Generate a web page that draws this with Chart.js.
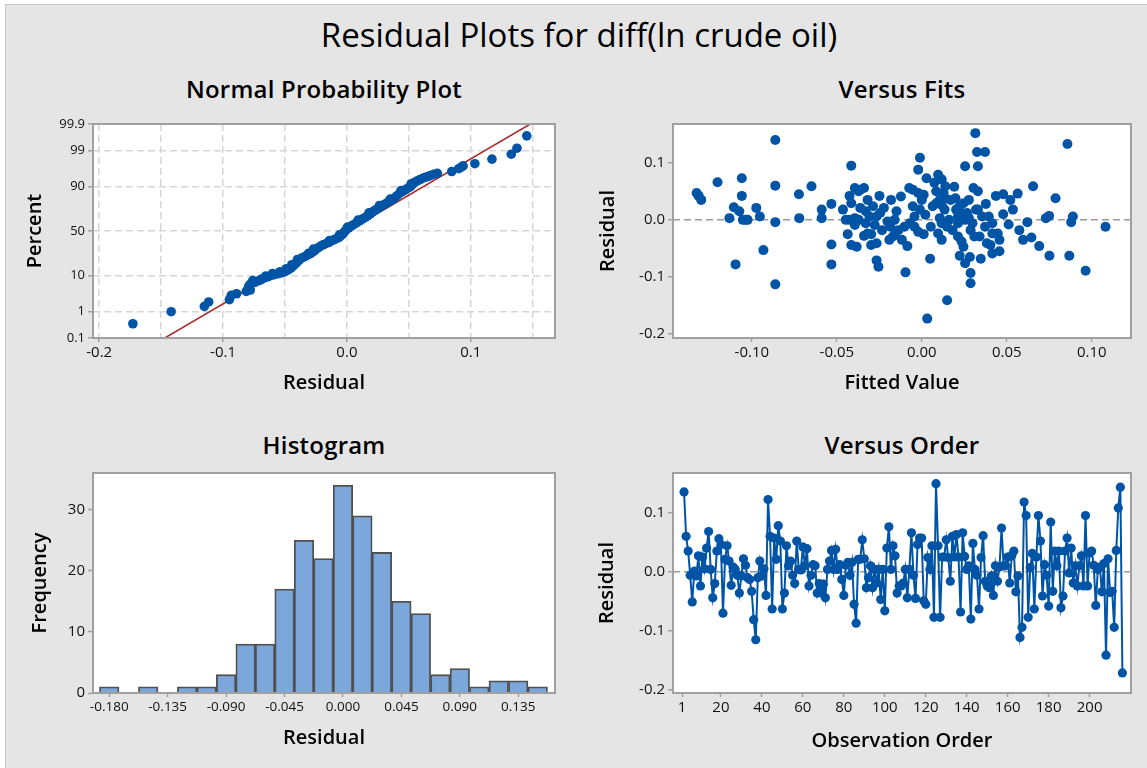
<!DOCTYPE html>
<html>
<head>
<meta charset="utf-8">
<script src="https://cdn.jsdelivr.net/npm/chart.js@4.4.1/dist/chart.umd.min.js"></script>
<style>
  body { margin: 0; width: 1147px; height: 768px; background: #fff; position: relative; overflow: hidden;
         font-family: "Open Sans", "Noto Sans", sans-serif; }
  #back { position: absolute; left: 5px; top: 4px; right: 0; bottom: 0; background: #e5e5e5;
          border-left: 1px solid #c8c8c8; border-top: 1px solid #c8c8c8; }
  .title { position: absolute; text-align: center; color: #000; white-space: nowrap; }
  .main { left: 0; width: 1158px; top: 15px; font-size: 33px; line-height: 40px; }
  .panel { font-size: 24px; line-height: 28px; font-weight: 600; top: 75px; width: 462px; letter-spacing: 0.2px; }
  canvas { position: absolute; }
</style>
</head>
<body>
<div id="back"></div>
<div class="title main">Residual Plots for diff(ln crude oil)</div>
<div class="title panel" style="left:93px">Normal Probability Plot</div>
<div class="title panel" style="left:673px; width:458px">Versus Fits</div>
<div class="title panel" style="left:93px; top:431px">Histogram</div>
<div class="title panel" style="left:673px; top:431px; width:458px">Versus Order</div>

<canvas id="normChart" width="573" height="340" style="left:0; top:60px"></canvas>
<canvas id="fitsChart" width="574" height="340" style="left:573px; top:60px"></canvas>
<canvas id="histChart" width="573" height="368" style="left:0; top:400px"></canvas>
<canvas id="orderChart" width="574" height="368" style="left:573px; top:400px"></canvas>

<script>
// normal probability plot: residual vs percent
const normResid = [-0.1728, -0.1419, -0.1151, -0.1116, -0.0949, -0.0934, -0.0891, -0.0813, -0.0793, -0.0770,
  -0.0727, -0.0669, -0.0611, -0.0553, -0.0496, -0.0452, -0.0409, -0.0366, -0.0323, -0.0279,
  -0.0236, -0.0193, -0.0149, -0.0107, -0.0063, -0.0034, -0.0006, 0.0038, 0.0081, 0.0124,
  0.0168, 0.0211, 0.0254, 0.0297, 0.0341, 0.0384, 0.0427, 0.0471, 0.0514, 0.0543,
  0.0586, 0.0629, 0.0673, 0.0730, 0.0846, 0.0903, 0.0938, 0.1033, 0.1171, 0.1327, 0.1373, 0.1452,
  -0.0800, -0.0780, -0.0785, -0.0745, -0.0760, -0.0700, -0.0690, -0.0640, -0.0655, -0.0585,
  -0.0600, -0.0525, -0.0540, -0.0475, -0.0490, -0.0430, -0.0445, -0.0388, -0.0400, -0.0345,
  -0.0300, -0.0310, -0.0258, -0.0270, -0.0215, -0.0171, -0.0128, -0.0140, -0.0085, -0.0048,
  -0.0060, -0.0020, 0.0016, 0.0005, 0.0060, 0.0102, 0.0090, 0.0146, 0.0190, 0.0178,
  0.0232, 0.0275, 0.0262, 0.0319, 0.0362, 0.0350, 0.0405, 0.0449, 0.0437, 0.0492,
  0.0528, 0.0520, 0.0565, 0.0607, 0.0651, 0.0700, 0.0920];
const normPct = [0.37, 0.99, 1.47, 2.02, 2.36, 3.14, 3.5, 4.05, 5.5, 6.65,
  7.27, 8.72, 9.98, 10.86, 12.14, 14.2, 17.7, 21.7, 24.0, 26.8,
  31.1, 34.5, 37.0, 40.0, 42.6, 46.8, 51.4, 56.0, 59.7, 63.4,
  66.9, 71.3, 74.5, 77.5, 80.3, 82.9, 86.3, 88.3, 90.0, 91.9,
  93.0, 93.9, 94.5, 95.2, 95.7, 96.4, 97.0, 97.4, 98.1, 98.67, 99.16, 99.70,
  4.6, 4.4, 6.0, 6.9, 7.6, 7.8, 8.2, 9.3, 9.7, 10.4,
  11.0, 11.4, 12.0, 13.1, 13.8, 15.8, 16.5, 19.6, 20.5, 22.8,
  25.4, 26.0, 28.9, 30.0, 32.8, 35.7, 38.5, 39.2, 41.3, 44.7,
  45.5, 49.1, 53.7, 54.5, 57.8, 61.5, 62.3, 65.1, 69.1, 70.0,
  72.9, 76.0, 76.8, 78.9, 81.6, 82.2, 84.6, 87.3, 87.8, 89.2,
  91.0, 91.4, 92.5, 93.5, 94.2, 94.9, 96.7];
// fitted normal line end points
const fitLineResid = [-0.147, 0.148];
const fitLinePct = [0.1, 99.9];
const pctTicks = [0.1, 1, 10, 50, 90, 99, 99.9];
const normXTicks = [-0.2, -0.15, -0.1, -0.05, 0, 0.05, 0.1, 0.15];

// versus fits
const fitX = [-0.1325, -0.1313, -0.1298, -0.1202, -0.1132, -0.1106, -0.1096, -0.1074, -0.1059, -0.1059,
  -0.1053, -0.1036, -0.1025, -0.0974, -0.0953, -0.0932, -0.0862, -0.0862, -0.0862, -0.0862,
  -0.0723, -0.0721, -0.0649, -0.0589, -0.0589, -0.0532, -0.0532, -0.0532, -0.0464, -0.0447,
  -0.0436, -0.0425, -0.0415, -0.0415, -0.0415, -0.0394, -0.0394, -0.0383, -0.0372, -0.0372,
  -0.0362, -0.0340, -0.0340, -0.0330, -0.0319, -0.0308, -0.0298, -0.0298, -0.0287, -0.0277,
  -0.0266, -0.0266, -0.0255, -0.0249, -0.0245, -0.0234, -0.0223, -0.0191, -0.0185, -0.0181,
  -0.0170, -0.0149, -0.0138, -0.0123, -0.0117, -0.0102, -0.0096, -0.0085, -0.0074, -0.0070,
  -0.0053, -0.0053, -0.0043, -0.0021, -0.0021, -0.0011, 0.0000, 0.0011, 0.0021, 0.0028,
  0.0032, 0.0049, 0.0053, 0.0064, 0.0074, 0.0085, 0.0096, 0.0096, 0.0106, 0.0106,
  0.0117, 0.0117, 0.0128, 0.0134, 0.0138, 0.0149, 0.0160, 0.0170, 0.0191, 0.0198,
  0.0202, 0.0213, 0.0213, 0.0223, 0.0234, 0.0245, 0.0255, 0.0255, 0.0266, 0.0277,
  0.0283, 0.0287, 0.0287, 0.0298, 0.0304, 0.0315, 0.0319, 0.0325, 0.0330, 0.0330,
  0.0340, 0.0347, 0.0355, 0.0372, 0.0377, 0.0383, 0.0415, 0.0415, 0.0436, 0.0447,
  0.0457, 0.0457, 0.0479, 0.0479, 0.0511, 0.0521, 0.0536, 0.0564, 0.0574, 0.0596,
  0.0621, 0.0645, 0.0655, 0.0691, 0.0730, 0.0749, 0.0751, 0.0787, 0.0857, 0.0868,
  0.0879, 0.0889, 0.0964, 0.1081, 0.0085, 0.0117, 0.0138, 0.0213, 0.0223, 0.0234,
  0.0255, 0.0277, 0.0287, 0.0309, 0.0372, 0.0394, 0.0415, 0.0404, 0.0330, 0.0181,
  0.0149, -0.0011, -0.0043, -0.0160, -0.0202, -0.0330, -0.0394, -0.0425, -0.0266, -0.0021,
  0.0011, 0.0117, 0.0245, -0.0160, -0.0319, -0.0362];
const fitResid = [0.047, 0.042, 0.035, 0.066, 0.003, 0.022, -0.078, 0.015, 0.073, 0.042,
  0.0, 0.0, 0.0, 0.021, 0.006, -0.053, 0.140, 0.060, -0.004, -0.113,
  0.045, 0.003, 0.059, 0.018, 0.003, 0.028, -0.043, -0.078, 0.018, 0.0,
  -0.025, 0.042, 0.095, 0.029, -0.044, 0.056, 0.003, -0.047, 0.050, 0.0,
  0.021, 0.056, -0.028, 0.015, 0.035, 0.006, -0.044, -0.025, 0.024, -0.009,
  -0.041, -0.071, -0.082, 0.042, 0.012, -0.018, 0.021, -0.035, -0.012, 0.035,
  -0.029, 0.015, -0.018, 0.041, -0.035, -0.012, -0.092, -0.046, 0.056, -0.006,
  0.053, 0.024, 0.006, 0.088, -0.021, 0.109, 0.035, -0.025, 0.009, 0.073,
  -0.173, -0.068, -0.012, 0.024, 0.065, 0.050, 0.079, -0.024, 0.035, 0.003,
  0.071, -0.035, 0.047, 0.018, 0.059, -0.141, 0.0, 0.035, 0.058, 0.038,
  0.018, -0.006, -0.029, -0.063, -0.038, 0.029, 0.094, -0.076, 0.012, 0.035,
  -0.065, -0.093, -0.111, -0.006, 0.056, 0.152, 0.018, 0.119, 0.094, 0.050,
  -0.029, -0.068, 0.006, 0.119, 0.028, -0.041, -0.006, -0.059, 0.042, -0.024,
  -0.035, -0.055, 0.045, 0.010, -0.008, 0.035, 0.018, 0.046, -0.018, -0.035,
  -0.004, -0.031, 0.059, -0.046, 0.003, 0.007, -0.063, 0.038, 0.133, -0.063,
  -0.004, 0.006, -0.089, -0.012, 0.029, 0.026, 0.038, 0.006, 0.024, 0.012,
  0.0, 0.003, -0.018, -0.029, -0.012, 0.006, -0.024, -0.044, 0.018, -0.018,
  -0.012, 0.018, -0.012, 0.0, -0.003, -0.006, -0.009, 0.0, 0.006, 0.047,
  0.044, -0.006, -0.047, -0.026, -0.024, 0.053];
const fitXTicks = [-0.10, -0.05, 0.00, 0.05, 0.10];
const residTicks = [-0.2, -0.1, 0.0, 0.1];

// histogram
const binCenters = [-0.180, -0.165, -0.150, -0.135, -0.120, -0.105, -0.090, -0.075, -0.060, -0.045, -0.030, -0.015,
  0.000, 0.015, 0.030, 0.045, 0.060, 0.075, 0.090, 0.105, 0.120, 0.135, 0.150];
const binCounts = [1, 0, 1, 0, 1, 1, 3, 8, 8, 17, 25, 22, 34, 29, 23, 15, 13, 3, 4, 1, 2, 2, 1];
const histXTicks = [-0.180, -0.135, -0.090, -0.045, 0.000, 0.045, 0.090, 0.135];
const freqTicks = [0, 10, 20, 30];

// versus order (observation 1 is missing after differencing)
const firstObs = 2;
const orderResid = [0.135, 0.060, 0.035, -0.006, -0.051, 0.001, -0.007, 0.027, -0.024, 0.025,
  0.005, 0.040, 0.068, 0.004, -0.044, -0.020, 0.035, 0.056, 0.046, -0.070,
  0.021, 0.044, 0.018, -0.023, 0.008, 0.004, -0.006, -0.036, -0.007, 0.022,
  0.011, -0.010, -0.013, -0.033, -0.081, -0.115, -0.010, 0.018, -0.007, 0.005,
  -0.040, 0.122, 0.060, -0.063, 0.057, 0.021, 0.078, 0.052, -0.063, -0.036,
  0.044, 0.010, 0.018, -0.006, -0.020, 0.052, 0.004, 0.003, 0.042, 0.010,
  0.039, -0.024, -0.006, 0.012, 0.010, -0.036, -0.020, -0.036, -0.021, -0.044,
  0.004, 0.018, 0.036, 0.004, 0.038, 0.004, 0.012, -0.013, -0.040, 0.011,
  0.016, -0.006, 0.016, -0.055, -0.087, 0.021, 0.021, 0.054, 0.022, -0.027,
  -0.010, 0.010, -0.027, 0.004, -0.019, 0.004, -0.047, 0.004, -0.066, 0.040,
  0.076, 0.004, 0.044, 0.027, -0.036, -0.024, -0.024,
  -0.019, 0.004, -0.044, 0.004, 0.066, -0.006, -0.045, 0.046, 0.057, 0.057,
  -0.049, -0.055, 0.024, 0.004, 0.044, -0.077, 0.149, 0.044, -0.077, 0.025,
  0.025, 0.054, 0.024, -0.016, 0.060, 0.025, 0.063, 0.025, -0.068, 0.066,
  0.026, 0.004, 0.010, -0.080, 0.048, 0.004, -0.006, -0.063, 0.024, 0.061,
  -0.016, -0.024, -0.027, -0.007, -0.040, 0.010, -0.016, 0.008, 0.074, 0.010,
  0.010, 0.025, -0.019, 0.027, 0.035, -0.034, -0.007, -0.111, -0.094, 0.118,
  0.095, -0.077, 0.007, 0.031, -0.063, 0.025, 0.095, 0.052, -0.041, 0.012,
  -0.006, -0.058, 0.084, -0.033, 0.035, 0.010, 0.035, -0.061, -0.041, 0.035,
  0.057, -0.002, 0.040, -0.019, 0.010, -0.024, 0.010, 0.027, -0.024, 0.095,
  -0.024, 0.032, 0.035, 0.011, -0.057, 0.004, 0.008, -0.034, 0.014, -0.141,
  0.022, -0.035, -0.033, -0.094, 0.036, 0.108, 0.143, -0.171];
const orderTicks = [1, 20, 40, 60, 80, 100, 120, 140, 160, 180, 200];

const dotBlue = "#0054a6";
const frameGray = "#a0a0a0";

Chart.defaults.font.family = '"Open Sans", "Noto Sans", sans-serif';
Chart.defaults.color = "#111";
Chart.defaults.animation = false;
Chart.defaults.plugins.legend.display = false;
Chart.defaults.plugins.tooltip.enabled = false;

// inverse normal cdf, used for the probability axis
function probit(p) {
  const a = [-39.69683028665376, 220.9460984245205, -275.9285104469687, 138.357751867269, -30.66479806614716, 2.506628277459239];
  const b = [-54.47609879822406, 161.5858368580409, -155.6989798598866, 66.80131188771972, -13.28068155288572];
  const c = [-0.007784894002430293, -0.3223964580411365, -2.400758277161838, -2.549732539343734, 4.374664141464968, 2.938163982698783];
  const d = [0.007784695709041462, 0.3224671290700398, 2.445134137142996, 3.754408661907416];
  const tail = (q) => (((((c[0] * q + c[1]) * q + c[2]) * q + c[3]) * q + c[4]) * q + c[5]) /
    ((((d[0] * q + d[1]) * q + d[2]) * q + d[3]) * q + 1);
  if (p < 0.02425) return tail(Math.sqrt(-2 * Math.log(p)));
  if (p > 1 - 0.02425) return -tail(Math.sqrt(-2 * Math.log(1 - p)));
  const q = p - 0.5, r = q * q;
  return (((((a[0] * r + a[1]) * r + a[2]) * r + a[3]) * r + a[4]) * r + a[5]) * q /
    (((((b[0] * r + b[1]) * r + b[2]) * r + b[3]) * r + b[4]) * r + 1);
}
const pz = (pct) => probit(pct / 100);

// white plot area with a grey frame
const plotFrame = {
  id: "plotFrame",
  beforeDraw(chart) {
    const { ctx, chartArea: a } = chart;
    ctx.save();
    ctx.fillStyle = "#fff";
    ctx.fillRect(a.left, a.top, a.right - a.left, a.bottom - a.top);
    ctx.restore();
  },
  afterDraw(chart) {
    const { ctx, chartArea: a } = chart;
    ctx.save();
    ctx.strokeStyle = frameGray;
    ctx.lineWidth = 2;
    ctx.strokeRect(a.left, a.top, a.right - a.left, a.bottom - a.top);
    ctx.restore();
  },
};

const setTicks = (values) => (scale) => {
  scale.ticks = values.map((v) => ({ value: v }));
};

const axisTitle = (text, pad) => ({
  display: true,
  text: text,
  color: "#000",
  font: { size: 20, weight: "600" },
  padding: pad,
});

// x axis with tick marks only
const xAxis = (min, max, ticks, fmt, height, title, titlePad, fontSize) => ({
  type: "linear",
  min: min,
  max: max,
  offset: false,
  afterBuildTicks: setTicks(ticks),
  afterFit: (s) => { s.height = height; },
  ticks: { callback: fmt, font: { size: fontSize }, padding: 2, maxRotation: 0, autoSkip: false },
  grid: { drawOnChartArea: false, offset: false, tickLength: 4, tickColor: frameGray, tickWidth: 1.5 },
  border: { display: false },
  title: axisTitle(title, { top: 0, bottom: titlePad }),
});

// residual y axis with a dashed reference line at zero
const residAxis = (min, max, width, titlePad) => ({
  type: "linear",
  min: min,
  max: max,
  afterBuildTicks: setTicks(residTicks),
  afterFit: (s) => { s.width = width; },
  ticks: { callback: (v) => v.toFixed(1), font: { size: 15 }, padding: 3 },
  grid: {
    color: (c) => (c.tick && c.tick.value === 0 ? "#9a9a9a" : "rgba(0,0,0,0)"),
    lineWidth: 1.5,
    tickLength: 5,
    tickColor: frameGray,
    tickWidth: 1.5,
  },
  border: { display: false, dash: [7, 4] },
  title: axisTitle("Residual", { top: titlePad, bottom: 0 }),
});

// Normal Probability Plot
new Chart(document.getElementById("normChart"), {
  type: "scatter",
  data: {
    datasets: [
      {
        data: normResid.map((r, i) => ({ x: r, y: pz(normPct[i]) })),
        backgroundColor: dotBlue,
        borderWidth: 0,
        pointRadius: 4.8,
      },
      {
        data: fitLineResid.map((r, i) => ({ x: r, y: pz(fitLinePct[i]) })),
        showLine: true,
        borderColor: "#a52a2a",
        borderWidth: 1.5,
        pointRadius: 0,
      },
    ],
  },
  options: {
    responsive: false,
    layout: { padding: { top: 64, right: 18, left: 0, bottom: 0 } },
    scales: {
      x: {
        type: "linear",
        min: -0.205,
        max: 0.168,
        afterBuildTicks: setTicks(normXTicks),
        afterFit: (s) => { s.height = 62; },
        ticks: {
          callback: (v) => (Math.abs(v * 10 - Math.round(v * 10)) < 1e-9 ? v.toFixed(1) : ""),
          font: { size: 15 },
          padding: 2,
          autoSkip: false,
          maxRotation: 0,
        },
        grid: {
          color: "#d6d6d6",
          lineWidth: 1.5,
          tickLength: 4,
          tickWidth: 1.5,
          tickColor: (c) => (c.tick && Math.abs(c.tick.value * 10 - Math.round(c.tick.value * 10)) < 1e-9 ? frameGray : "rgba(0,0,0,0)"),
        },
        border: { display: false, dash: [7, 4] },
        title: axisTitle("Residual", { top: 0, bottom: 5 }),
      },
      y: {
        type: "linear",
        min: pz(0.1),
        max: pz(99.9),
        afterBuildTicks: setTicks(pctTicks.map(pz)),
        afterFit: (s) => { s.width = 93; },
        ticks: { callback: (v, i) => String(pctTicks[i]), font: { size: 13 }, padding: 3, autoSkip: false },
        grid: { color: "#d6d6d6", lineWidth: 1.5, tickLength: 5, tickWidth: 1.5, tickColor: frameGray },
        border: { display: false, dash: [7, 4] },
        title: axisTitle("Percent", { top: 23, bottom: 0 }),
      },
    },
  },
  plugins: [plotFrame],
});

// Versus Fits
new Chart(document.getElementById("fitsChart"), {
  type: "scatter",
  data: {
    datasets: [
      {
        data: fitX.map((x, i) => ({ x: x, y: fitResid[i] })),
        backgroundColor: dotBlue,
        borderWidth: 0,
        pointRadius: 5,
      },
    ],
  },
  options: {
    responsive: false,
    layout: { padding: { top: 64, right: 16, left: 0, bottom: 0 } },
    scales: {
      x: xAxis(-0.1464, 0.1231, fitXTicks, (v) => v.toFixed(2), 62, "Fitted Value", 5, 15),
      y: residAxis(-0.207, 0.168, 100, 23),
    },
  },
  plugins: [plotFrame],
});

// Histogram
new Chart(document.getElementById("histChart"), {
  type: "bar",
  data: {
    datasets: [
      {
        data: binCenters.map((b, i) => ({ x: b, y: binCounts[i] })),
        backgroundColor: "#7ba7da",
        borderColor: "#505050",
        borderWidth: 1.8,
        barPercentage: 1,
        categoryPercentage: 1,
      },
    ],
  },
  options: {
    responsive: false,
    layout: { padding: { top: 73, right: 18, left: 0, bottom: 0 } },
    scales: {
      x: xAxis(-0.1925, 0.1633, histXTicks, (v) => v.toFixed(3), 75, "Residual", 18, 13.5),
      y: {
        type: "linear",
        min: 0,
        max: 36,
        afterBuildTicks: setTicks(freqTicks),
        afterFit: (s) => { s.width = 93; },
        ticks: { font: { size: 15 }, padding: 3 },
        grid: { drawOnChartArea: false, tickLength: 5, tickColor: frameGray, tickWidth: 1.5 },
        border: { display: false },
        title: axisTitle("Frequency", { top: 28, bottom: 0 }),
      },
    },
  },
  plugins: [plotFrame],
});

// Versus Order
new Chart(document.getElementById("orderChart"), {
  type: "line",
  data: {
    datasets: [
      {
        data: orderResid.map((r, i) => ({ x: firstObs + i, y: r })),
        borderColor: dotBlue,
        borderWidth: 2,
        backgroundColor: dotBlue,
        pointRadius: 4.6,
        pointBorderWidth: 0,
        tension: 0,
      },
    ],
  },
  options: {
    responsive: false,
    layout: { padding: { top: 73, right: 16, left: 0, bottom: 0 } },
    scales: {
      x: xAxis(-3.4, 220.2, orderTicks, (v) => String(v), 75, "Observation Order", 15, 15),
      y: residAxis(-0.205, 0.167, 100, 22),
    },
  },
  plugins: [plotFrame],
});
</script>
</body>
</html>
